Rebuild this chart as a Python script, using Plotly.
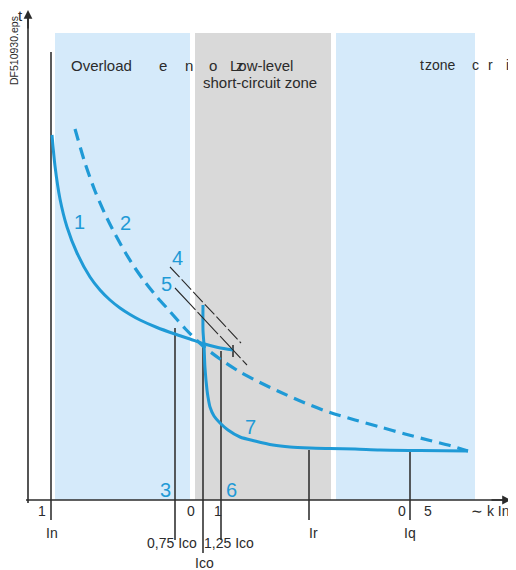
import plotly.graph_objects as go

# ---------------- data (diagram coordinates, y grows downward) ----------------
curve1_x = [52, 55, 60, 67, 77, 90, 100, 110, 120, 130, 140, 157, 175, 190, 203, 218, 233]
curve1_y = [135, 166, 199, 227, 253, 277, 290, 300, 308, 314.5, 320, 327.5, 334, 339, 343.5, 347.5, 350]

curve2_x = [75, 85, 95, 105, 115, 125, 135, 145, 157, 170, 185, 203, 220, 240, 260, 280, 305, 330, 355, 380, 405, 430, 450, 468]
curve2_y = [129, 163, 191, 214, 234, 252, 268, 282, 297, 311.5, 328.5, 346, 359, 372, 382.5, 392, 403, 412.5, 420, 427, 434, 440.5, 445.5, 451]

curve7_x = [203, 203, 204, 205, 207, 208, 210, 214, 220, 228, 240, 255, 273, 290, 310, 330, 355, 380, 420, 468]
curve7_y = [305, 330, 345, 368, 390, 397, 407, 416, 423, 430, 437, 441, 445, 447, 448, 448.5, 449, 450, 450.5, 451]

line4_x = [170, 241]
line4_y = [267, 343]
line5_x = [175, 247]
line5_y = [288, 365]

zones_x0 = [55, 195, 336]
zones_x1 = [190, 331, 475]
zone_colors = ["#d5eafa", "#d9d9d9", "#d5eafa"]

marker_x = [51, 175, 203, 221, 309, 410]
marker_top = [52, 328, 345, 351, 450, 452]
marker_bottom = [520, 540, 553, 540, 520, 520]
marker_labels = ["In", "0,75 Ico", "Ico", "1,25 Ico", "Ir", "Iq"]
marker_label_y = [533, 543, 563, 543, 533, 533]
marker_label_x = [52, 172, 204, 229, 313, 410]

curve_numbers = ["1", "2", "4", "5", "7", "3", "6"]
curve_number_x = [79, 125, 177, 166, 250, 165, 231]
curve_number_y = [222, 223, 258, 284, 427, 490, 490]

tick_texts = ["1", "0", "1", "0", "5"]
tick_x = [42, 191, 218, 402, 428]

BLUE = "#1f9ad6"
INK = "#2b2b2b"
FONT = "Liberation Sans, Arial, sans-serif"

fig = go.Figure()

shapes = []
for x0, x1, c in zip(zones_x0, zones_x1, zone_colors):
    shapes.append(dict(type="rect", x0=x0, x1=x1, y0=33, y1=500, fillcolor=c,
                       line=dict(width=0), layer="below"))
for x, t, b in zip(marker_x, marker_top, marker_bottom):
    shapes.append(dict(type="line", x0=x, x1=x, y0=t, y1=b,
                       line=dict(color="#333333", width=1.6), layer="below"))
# small tick at end of curve 1
shapes.append(dict(type="line", x0=233, x1=233, y0=345, y1=357,
                   line=dict(color="#333333", width=1.6), layer="below"))
# axes
shapes.append(dict(type="line", x0=28, x1=28, y0=503, y1=14, line=dict(color=INK, width=1.6)))
shapes.append(dict(type="line", x0=26, x1=506, y0=500, y1=500, line=dict(color=INK, width=1.6)))
# thin diagonal lines 4 and 5
shapes.append(dict(type="line", x0=line4_x[0], x1=line4_x[1], y0=line4_y[0], y1=line4_y[1],
                   line=dict(color=INK, width=1.1, dash="14px,3px")))
shapes.append(dict(type="line", x0=line5_x[0], x1=line5_x[1], y0=line5_y[0], y1=line5_y[1],
                   line=dict(color=INK, width=1.1, dash="30px,3px")))

fig.add_trace(go.Scatter(x=curve1_x, y=curve1_y, mode="lines",
                         line=dict(color=BLUE, width=3, shape="spline", smoothing=0.8), hoverinfo="skip"))
fig.add_trace(go.Scatter(x=curve2_x, y=curve2_y, mode="lines",
                         line=dict(color=BLUE, width=3.2, dash="12px,7px", shape="spline", smoothing=0.8),
                         hoverinfo="skip"))
fig.add_trace(go.Scatter(x=curve7_x, y=curve7_y, mode="lines",
                         line=dict(color=BLUE, width=3, shape="spline", smoothing=0.8), hoverinfo="skip"))

ann = []
def txt(x, y, s, size=14, color=INK, **kw):
    d = dict(x=x, y=y, text=s, showarrow=False, xref="x", yref="y",
             font=dict(family=FONT, size=size, color=color), xanchor="center", yanchor="middle")
    d.update(kw)
    ann.append(d)

# arrowheads
ann.append(dict(x=28, y=10, ax=28, ay=30, xref="x", yref="y", axref="x", ayref="y", text="",
                showarrow=True, arrowhead=2, arrowsize=1.1, arrowwidth=1.6, arrowcolor=INK))
ann.append(dict(x=511, y=500, ax=490, ay=500, xref="x", yref="y", axref="x", ayref="y", text="",
                showarrow=True, arrowhead=2, arrowsize=1.1, arrowwidth=1.6, arrowcolor=INK))

txt(20, 15, "t", 15)
txt(14, 51, "DF510930.eps", 10.5, textangle=-90)

# zone titles (as rendered in the source, letters scattered)
txt(69, 65, "Overload", 15, xanchor="left")
txt(163, 65, "e", 15)
txt(189, 65, "n", 15)
txt(213, 65, "o", 15)
txt(228, 65, "Low-level", 15, xanchor="left")
txt(240, 65, "z", 15)
txt(260, 82, "short-circuit zone", 15)
txt(422, 65, "t", 14)
txt(423, 65, "zone", 14, xanchor="left")
txt(475, 65, "c", 14)
txt(490, 65, "r", 14)
txt(507, 65, "i", 14)

for s, x in zip(tick_texts, tick_x):
    txt(x, 511, s, 14)
txt(490, 511, "∼ k In", 14)

for s, x, y in zip(marker_labels, marker_label_x, marker_label_y):
    txt(x, y, s, 14)

for s, x, y in zip(curve_numbers, curve_number_x, curve_number_y):
    txt(x, y, s, 20, color=BLUE)

# the page body has an 8px margin: size and range the figure so that
# diagram coordinates equal window pixels
fig.update_layout(
    width=508, height=562, margin=dict(l=0, r=0, t=0, b=0),
    paper_bgcolor="white", plot_bgcolor="white", showlegend=False,
    xaxis=dict(range=[8, 516], visible=False, fixedrange=True),
    yaxis=dict(range=[570, 8], visible=False, fixedrange=True),
    shapes=shapes, annotations=ann,
)
fig.write_html("out.html")
